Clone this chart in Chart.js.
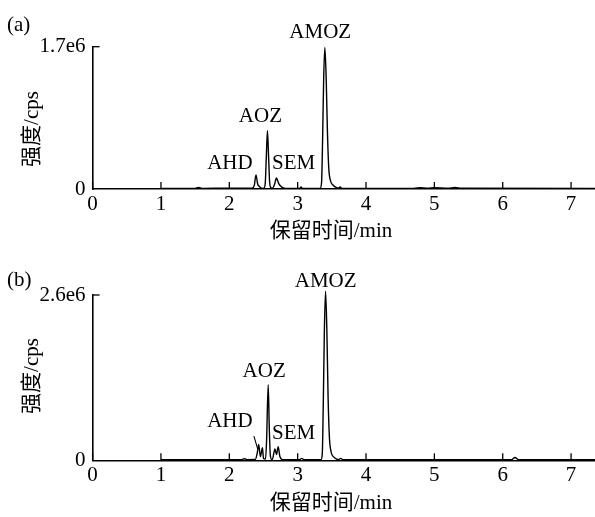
<!DOCTYPE html>
<html>
<head>
<meta charset="utf-8">
<script src="https://cdn.jsdelivr.net/npm/chart.js@4/dist/chart.umd.min.js"></script>
<style>
  html, body { margin: 0; padding: 0; background: #fff; }
  #wrap { position: relative; width: 595px; height: 517px; }
  canvas { position: absolute; left: 0; }
</style>
</head>
<body>
<div id="wrap">
  <canvas id="ca" width="595" height="258" style="top:0px"></canvas>
  <canvas id="cb" width="595" height="259" style="top:258px"></canvas>
</div>
<script>
// ---------- data ----------
const xTicks = [0, 1, 2, 3, 4, 5, 6, 7];
const xMax = 7.35;

// Panel (a)
const timesA = [1.00, 1.50, 1.55, 1.60, 2.00, 2.33, 2.365, 2.39, 2.415, 2.44, 2.47,
  2.50, 2.525, 2.54, 2.558, 2.575, 2.59, 2.61,
  2.63, 2.66, 2.69, 2.72, 2.75, 2.79, 2.82,
  3.03, 3.05, 3.07,
  3.33, 3.35, 3.365, 3.38, 3.398, 3.418, 3.435, 3.455, 3.48, 3.52, 3.56, 3.60, 3.62, 3.65,
  4.70, 4.80, 4.90, 5.00, 5.20, 5.30, 5.40, 7.35];
const intensityA = [8000, 8000, 18000, 8000, 9000, 9000, 40000, 167000, 60000, 30000, 9000,
  8000, 60000, 350000, 697000, 380000, 80000, 15000,
  10000, 50000, 131000, 70000, 35000, 12000, 8000,
  8000, 25000, 8000,
  8000, 80000, 600000, 1300000, 1690000, 1300000, 700000, 250000, 100000, 45000, 20000, 10000, 25000, 8000,
  8000, 15000, 10000, 15000, 10000, 18000, 10000, 8000];
const yMaxA = 1.7e6;
const yTopLabelA = '1.7e6';

// Panel (b)
const timesB = [1.00, 2.18, 2.22, 2.26, 2.38, 2.415, 2.43, 2.455, 2.485, 2.50,
  2.53, 2.545, 2.569, 2.585, 2.60, 2.62,
  2.63, 2.667, 2.69, 2.715, 2.74, 2.77, 2.80,
  3.03, 3.06, 3.09,
  3.34, 3.36, 3.375, 3.39, 3.408, 3.428, 3.445, 3.465, 3.49, 3.53, 3.57, 3.60, 3.63, 3.66,
  6.13, 6.18, 6.23, 7.35];
const intensityB = [10000, 10000, 25000, 10000, 12000, 150000, 250000, 60000, 200000, 30000,
  20000, 300000, 1190000, 500000, 80000, 15000,
  15000, 180000, 90000, 214000, 60000, 15000, 10000,
  10000, 30000, 10000,
  10000, 100000, 900000, 2000000, 2660000, 2000000, 1000000, 350000, 130000, 50000, 20000, 12000, 30000, 10000,
  10000, 45000, 10000, 10000];
const yMaxB = 2.6e6;
const yTopLabelB = '2.6e6';

// leader line from the AHD label in panel (b)
const leaderB_x = [2.36, 2.415];
const leaderB_y = [380000, 180000];

// peak labels (anchor in data units: time, intensity)
const peakNames = ['AHD', 'AOZ', 'SEM', 'AMOZ'];
const labelTimeA = [2.009, 2.455, 2.94, 3.33];
const labelIntA = [307000, 872000, 299000, 1872000];
const labelTimeB = [2.009, 2.51, 2.94, 3.41];
const labelIntB = [607000, 1394000, 425000, 2820000];

const xTitle = '保留时间/min';
const yTitle = '强度/cps';

// ---------- rendering ----------
const FONT = '"Liberation Serif", "Times New Roman", "Noto Sans CJK SC", serif';
const FS = 21;

function makeChart(canvasId, times, ints, yMax, yTopLabel, labT, labI, panelTag, geom, extra) {
  const datasets = [{
    data: times.map((t, i) => ({ x: t, y: ints[i] })),
    borderColor: '#000',
    borderWidth: 1.4,
    pointRadius: 0,
    cubicInterpolationMode: 'monotone',
    fill: false,
    clip: false
  }];
  if (extra) {
    datasets.push({
      data: extra.x.map((t, i) => ({ x: t, y: extra.y[i] })),
      borderColor: '#000',
      borderWidth: 1.1,
      pointRadius: 0,
      tension: 0,
      fill: false,
      clip: false
    });
  }
  const decor = {
    id: 'decor',
    afterDraw(chart) {
      const ctx = chart.ctx;
      const xs = chart.scales.x, ys = chart.scales.y;
      ctx.save();
      ctx.strokeStyle = '#000';
      ctx.lineWidth = 1.3;
      // inward tick marks on x axis
      xTicks.forEach(v => {
        const px = xs.getPixelForValue(v);
        ctx.beginPath();
        ctx.moveTo(px, ys.bottom);
        ctx.lineTo(px, ys.bottom - 7);
        ctx.stroke();
      });
      // inward top tick on y axis
      const py = ys.getPixelForValue(yMax);
      ctx.beginPath();
      ctx.moveTo(xs.left, py);
      ctx.lineTo(xs.left + 7, py);
      ctx.stroke();
      // peak labels
      ctx.fillStyle = '#000';
      ctx.font = FS + 'px ' + FONT;
      ctx.textAlign = 'center';
      ctx.textBaseline = 'middle';
      peakNames.forEach((n, i) => {
        ctx.fillText(n, xs.getPixelForValue(labT[i]), ys.getPixelForValue(labI[i]));
      });
      // panel tag
      ctx.textAlign = 'left';
      ctx.fillText(panelTag, geom.tagX, geom.tagY);
      // x title
      ctx.textAlign = 'center';
      ctx.fillText(xTitle, geom.xTitleX, geom.xTitleY);
      // y title
      ctx.translate(geom.yTitleX, geom.yTitleY);
      ctx.rotate(-Math.PI / 2);
      ctx.fillText(yTitle, 0, 0);
      ctx.restore();
    }
  };
  return new Chart(document.getElementById(canvasId), {
    type: 'line',
    data: { datasets },
    options: {
      responsive: false,
      animation: false,
      devicePixelRatio: 1,
      layout: { padding: { top: geom.top, right: 0, left: 0, bottom: 0 } },
      plugins: { legend: { display: false }, tooltip: { enabled: false } },
      scales: {
        x: {
          type: 'linear',
          min: 0, max: xMax,
          afterBuildTicks: s => { s.ticks = xTicks.map(v => ({ value: v })); },
          afterFit: s => { s.height = geom.xH; },
          grid: { display: true, drawOnChartArea: false, drawTicks: false, tickLength: 0 },
          border: { display: true, color: '#000', width: 1.6 },
          ticks: { color: '#000', padding: 3, maxRotation: 0, autoSkip: false,
                   font: { family: FONT, size: FS } }
        },
        y: {
          type: 'linear',
          min: 0, max: yMax,
          afterBuildTicks: s => { s.ticks = [{ value: 0 }, { value: yMax }]; },
          afterFit: s => { s.width = geom.yW; },
          grid: { display: true, drawOnChartArea: false, drawTicks: false, tickLength: 0 },
          border: { display: true, color: '#000', width: 1.6 },
          ticks: { color: '#000', padding: 7,
                   callback: v => (v === 0 ? '0' : yTopLabel),
                   font: { family: FONT, size: FS } }
        }
      }
    },
    plugins: [decor]
  });
}

makeChart('ca', timesA, intensityA, yMaxA, yTopLabelA, labelTimeA, labelIntA, '(a)',
  { top: 46.7, xH: 69, yW: 92.6, tagX: 7, tagY: 25, xTitleX: 331, xTitleY: 231, yTitleX: 32, yTitleY: 129 });
makeChart('cb', timesB, intensityB, yMaxB, yTopLabelB, labelTimeB, labelIntB, '(b)',
  { top: 37, xH: 56.7, yW: 92.6, tagX: 7, tagY: 22, xTitleX: 331, xTitleY: 245, yTitleX: 32, yTitleY: 118 },
  { x: leaderB_x, y: leaderB_y });
</script>
</body>
</html>
